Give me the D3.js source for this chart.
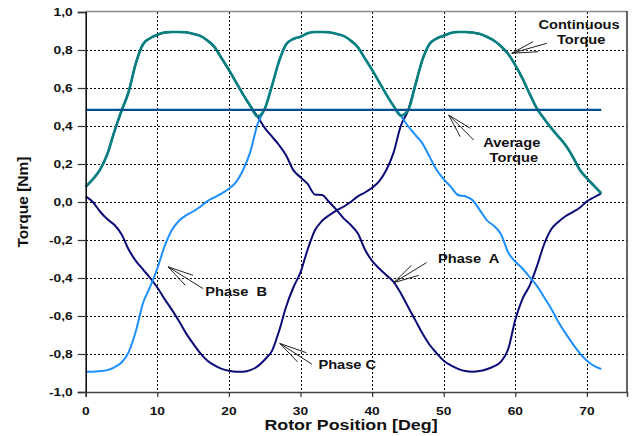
<!DOCTYPE html>
<html>
<head>
<meta charset="utf-8">
<script src="https://cdn.jsdelivr.net/npm/d3@7"></script>
<style>
  body { margin: 0; background: #fff; }
  svg { display: block; }
</style>
</head>
<body>
<svg id="chart"></svg>
<script>
// rotor position, deg
const position = d3.range(0, 73, 1);

const phaseA = [0.08, 0.12, 0.17, 0.25, 0.37, 0.48, 0.58, 0.73, 0.83, 0.862, 0.88, 0.892, 0.895, 0.895, 0.893, 0.885, 0.874, 0.85, 0.815, 0.755, 0.695, 0.63, 0.565, 0.505, 0.45,
  0.39, 0.345, 0.30, 0.245, 0.168, 0.13, 0.095, 0.04, 0.037, 0.0, -0.04, -0.085, -0.12, -0.165, -0.25, -0.31, -0.35, -0.385, -0.42, -0.48, -0.55, -0.62, -0.69, -0.75,
  -0.795, -0.835, -0.86, -0.878, -0.89, -0.893, -0.89, -0.88, -0.865, -0.84, -0.775, -0.62, -0.51, -0.44, -0.34, -0.225, -0.145, -0.105, -0.075, -0.053, -0.03, 0.003, 0.025, 0.046];

const phaseB = [-0.893, -0.893, -0.89, -0.885, -0.87, -0.845, -0.79, -0.68, -0.533, -0.446, -0.35, -0.235, -0.15, -0.1, -0.07, -0.05, -0.025, 0.005, 0.025, 0.045, 0.07, 0.105, 0.17, 0.265, 0.41,
  0.49, 0.61, 0.74, 0.83, 0.858, 0.87, 0.888, 0.895, 0.895, 0.893, 0.885, 0.874, 0.85, 0.815, 0.755, 0.695, 0.63, 0.565, 0.505, 0.455,
  0.40, 0.355, 0.31, 0.24, 0.17, 0.12, 0.08, 0.037, 0.03, 0.01, -0.04, -0.095, -0.125, -0.17, -0.265, -0.314, -0.35, -0.395, -0.44, -0.50, -0.56, -0.63, -0.69, -0.745, -0.795, -0.835, -0.862, -0.879];

const phaseC = [0.03, 0.0, -0.05, -0.09, -0.12, -0.17, -0.25, -0.31, -0.355, -0.40, -0.45, -0.51, -0.565, -0.625, -0.69, -0.745, -0.795, -0.835, -0.86, -0.878, -0.888, -0.893, -0.893, -0.885, -0.865,
  -0.83, -0.785, -0.68, -0.55, -0.45, -0.37, -0.25, -0.15, -0.1, -0.07, -0.045, -0.025, 0.0, 0.03, 0.05, 0.075, 0.11, 0.17, 0.26, 0.40,
  0.48, 0.61, 0.745, 0.83, 0.86, 0.875, 0.89, 0.895, 0.895, 0.892, 0.885, 0.87, 0.85, 0.82, 0.78, 0.72, 0.65, 0.57, 0.493, 0.44, 0.39, 0.345, 0.30, 0.24, 0.17, 0.125, 0.085, 0.046];

const continuous = [0.08, 0.12, 0.17, 0.25, 0.37, 0.48, 0.58, 0.73, 0.83, 0.862, 0.88, 0.892, 0.895, 0.895, 0.893, 0.885, 0.874, 0.85, 0.815, 0.755, 0.695, 0.63, 0.565, 0.505, 0.45,
  0.49, 0.61, 0.74, 0.83, 0.858, 0.87, 0.888, 0.895, 0.895, 0.893, 0.885, 0.874, 0.85, 0.815, 0.755, 0.695, 0.63, 0.565, 0.505, 0.455,
  0.48, 0.61, 0.745, 0.83, 0.86, 0.875, 0.89, 0.895, 0.895, 0.892, 0.885, 0.87, 0.85, 0.82, 0.78, 0.72, 0.65, 0.57, 0.493, 0.44, 0.39, 0.345, 0.30, 0.24, 0.17, 0.125, 0.085, 0.046];

const averageTorque = 0.485;
const averageSpan = [0, 72];

const xTicks = [0, 10, 20, 30, 40, 50, 60, 70];
const yTicks = [-1, -0.8, -0.6, -0.4, -0.2, 0, 0.2, 0.4, 0.6, 0.8, 1];

const width = 635;
const height = 436;
const margin = { left: 85.7, right: 8, top: 12, bottom: 44 };
const sx = 1.22; // text in the reference is drawn a bit wide
const font = "'Liberation Sans', Arial, sans-serif";

const svg = d3.select("#chart").attr("width", width).attr("height", height);
svg.append("rect").attr("width", width).attr("height", height).attr("fill", "#fff");

const x = d3.scaleLinear().domain([0, 75.6]).range([margin.left, width - margin.right]);
const y = d3.scaleLinear().domain([-1, 1]).range([height - margin.bottom, margin.top]);

const fmt = (v) => d3.format(".1f")(v).replace(".", ",").replace("−", "-");

const wideText = (g, px, py, txt, size, anchor, stretch) =>
  g.append("text")
    .attr("transform", `translate(${px},${py}) scale(${stretch},1)`)
    .attr("text-anchor", anchor)
    .attr("dominant-baseline", "central")
    .attr("font-family", font)
    .attr("font-weight", "bold")
    .attr("font-size", size)
    .attr("fill", "#111")
    .text(txt);

// grid
const grid = svg.append("g")
  .attr("stroke", "#000")
  .attr("stroke-width", 1.2)
  .attr("stroke-dasharray", "2,2")
  .attr("shape-rendering", "crispEdges");
yTicks.filter((t) => t > -1 && t < 1).forEach((t) => {
  grid.append("line")
    .attr("x1", x.range()[0]).attr("x2", x.range()[1])
    .attr("y1", Math.round(y(t)) + 0.5).attr("y2", Math.round(y(t)) + 0.5);
});
xTicks.filter((t) => t > 0).forEach((t) => {
  grid.append("line")
    .attr("x1", Math.round(x(t)) + 0.5).attr("x2", Math.round(x(t)) + 0.5)
    .attr("y1", y(1)).attr("y2", y(-1));
});

// frame
svg.append("line").attr("x1", x.range()[0]).attr("x2", x.range()[1])
  .attr("y1", y(1) - 0.5).attr("y2", y(1) - 0.5).attr("stroke", "#8a8a8a").attr("stroke-width", 1.5);
svg.append("line").attr("x1", x.range()[1]).attr("x2", x.range()[1])
  .attr("y1", y(1) - 1).attr("y2", y(-1)).attr("stroke", "#333").attr("stroke-width", 1.5);

// lines
const line = d3.line().x((d, i) => x(position[i])).y((d) => y(d)).curve(d3.curveMonotoneX);

const series = [
  { values: phaseC, color: "#0b0b78", w: 2 },
  { values: phaseA, color: "#0b0b78", w: 2 },
  { values: phaseB, color: "#1e8fff", w: 2 },
  { values: continuous, color: "#078080", w: 2.6 },
];
series.forEach((s) => {
  svg.append("path")
    .attr("d", line(s.values))
    .attr("fill", "none")
    .attr("stroke", s.color)
    .attr("stroke-width", s.w)
    .attr("stroke-linejoin", "round");
});

svg.append("line")
  .attr("x1", x(averageSpan[0])).attr("x2", x(averageSpan[1]))
  .attr("y1", y(averageTorque)).attr("y2", y(averageTorque))
  .attr("stroke", "#024f8c").attr("stroke-width", 2.4);

// axes
const yAxis = svg.append("g").attr("transform", `translate(${margin.left},0)`)
  .call(d3.axisLeft(y).tickValues(yTicks).tickSize(8).tickFormat(""));
yAxis.select(".domain").attr("stroke", "#000").attr("stroke-width", 1.5);
yAxis.selectAll(".tick line").attr("stroke", "#333").attr("stroke-width", 1.2);
yTicks.forEach((t) => wideText(svg, margin.left - 13, y(t), fmt(t), 11, "end", 1.25));

const xAxis = svg.append("g").attr("transform", `translate(0,${y(-1)})`)
  .call(d3.axisBottom(x).tickValues(xTicks).tickSize(5).tickFormat(""));
xAxis.select(".domain").attr("stroke", "#444").attr("stroke-width", 1.5);
xAxis.selectAll(".tick line").attr("stroke", "#333").attr("stroke-width", 1.2);
xTicks.forEach((t) => wideText(svg, x(t), 411, String(t), 11, "middle", 1.25));

// titles
wideText(svg, 351, 425, "Rotor Position [Deg]", 15.5, "middle", 1.15);
svg.append("text")
  .attr("transform", `translate(22,${y(0)}) rotate(-90)`)
  .attr("text-anchor", "middle")
  .attr("dominant-baseline", "central")
  .attr("font-family", font)
  .attr("font-weight", "bold")
  .attr("font-size", 15.5)
  .attr("fill", "#111")
  .text("Torque [Nm]");

// annotations: tip, shaft end, two barbs (data units)
const notes = [
  { tip: [59.5, 0.783], tail: [64.4, 0.835], barbs: [[62.5, 0.844], [63.2, 0.791]],
    labels: [["Continuous", 68.9, 0.932, "middle"], ["Torque", 69.2, 0.853, "middle"]] },
  { tip: [50.7, 0.458], tail: [54.2, 0.326], barbs: [[53.7, 0.388], [52.3, 0.344]],
    labels: [["Average", 59.5, 0.309, "middle"], ["Torque", 59.8, 0.233, "middle"]] },
  { tip: [11.5, -0.341], tail: [16.4, -0.456], barbs: [[15.0, -0.386], [13.9, -0.438]],
    labels: [["Phase  B", 16.7, -0.474, "start"]] },
  { tip: [27.1, -0.744], tail: [31.6, -0.854], barbs: [[30.8, -0.793], [29.6, -0.842]],
    labels: [["Phase C", 32.5, -0.86, "start"]] },
  { tip: [43.0, -0.425], tail: [47.6, -0.319], barbs: [[45.5, -0.333], [46.5, -0.386]],
    labels: [["Phase  A", 49.2, -0.298, "start"]] },
];
const ann = svg.append("g");
notes.forEach((n) => {
  [n.tail, ...n.barbs].forEach((p) => {
    ann.append("line")
      .attr("x1", x(n.tip[0])).attr("y1", y(n.tip[1]))
      .attr("x2", x(p[0])).attr("y2", y(p[1]))
      .attr("stroke", "#222").attr("stroke-width", 1);
  });
  n.labels.forEach(([t, lx, ly, anchor]) => {
    ann.append("text")
      .attr("transform", `translate(${x(lx)},${y(ly)}) scale(${sx},1)`)
      .attr("text-anchor", anchor)
      .attr("dominant-baseline", "central")
      .attr("font-family", font)
      .attr("font-weight", "bold")
      .attr("font-size", 12)
      .attr("fill", "#111")
      .attr("xml:space", "preserve")
      .style("white-space", "pre")
      .text(t);
  });
});
</script>
</body>
</html>
